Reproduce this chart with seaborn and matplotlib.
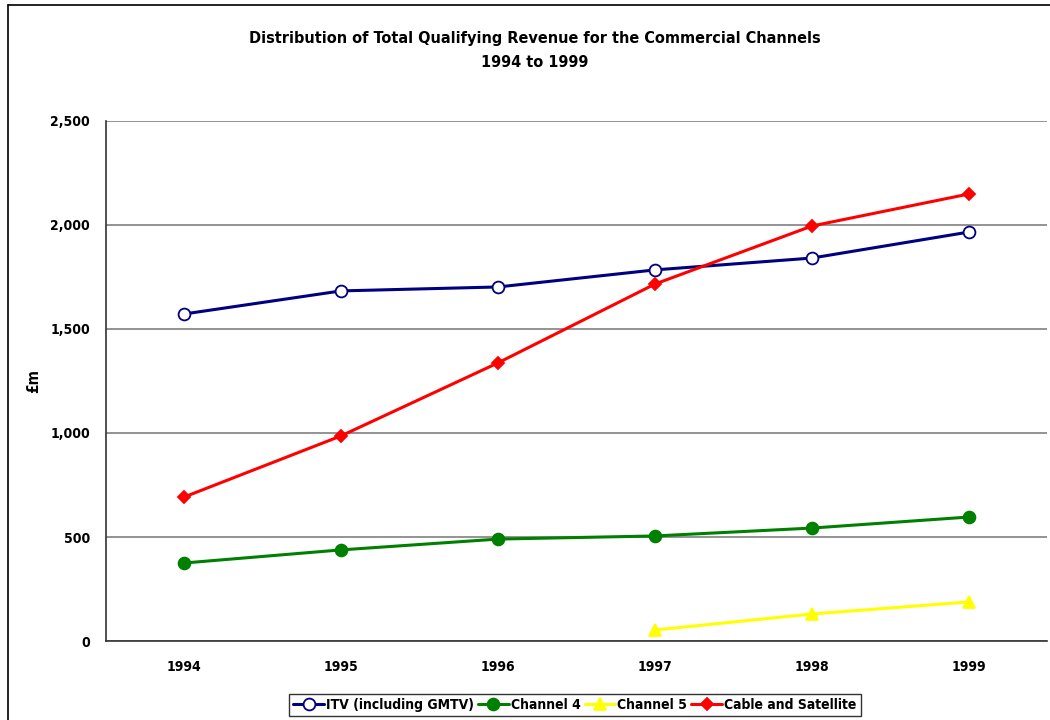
import matplotlib
matplotlib.use("Agg")
import matplotlib.pyplot as plt
import seaborn as sns
import numpy as np
import pandas as pd
from matplotlib.lines import Line2D

years = ["1994", "1995", "1996", "1997", "1998", "1999"]
itv = [1572, 1683, 1702, 1784, 1841, 1966]
channel4 = [375, 438, 490, 505, 543, 596]
channel5 = [np.nan, np.nan, np.nan, 53, 130, 188]
cable_sat = [692, 986, 1337, 1716, 1995, 2149]
y_ticks = [0, 500, 1000, 1500, 2000, 2500]

sns.set_theme(style="white")
plt.rcParams['font.family'] = ['DejaVu Sans']
plt.rcParams['font.stretch'] = 'condensed'
plt.rcParams['text.color'] = 'black'
plt.rcParams['axes.labelcolor'] = 'black'
plt.rcParams['xtick.color'] = 'black'
plt.rcParams['ytick.color'] = 'black'

fig = plt.figure(figsize=(10.5, 7.2), dpi=100)
ax = fig.add_axes([0.1005, 0.1097, 0.897, 0.7223])

x = np.arange(len(years))
series = [
    ("ITV (including GMTV)", itv, "#000080", "o", "white"),
    ("Channel 4", channel4, "#008000", "o", "#008000"),
    ("Channel 5", channel5, "#FFFF00", "^", "#FFFF00"),
    ("Cable and Satellite", cable_sat, "#FF0000", "D", "#FF0000"),
]
handles = []
for name, vals, col, mk, fc in series:
    ms = 8.5 if mk != "D" else 6.5
    sns.lineplot(x=x, y=vals, ax=ax, color=col, linewidth=2.2, marker=mk,
                 markersize=ms, markerfacecolor=fc, markeredgecolor=col,
                 markeredgewidth=1.3, legend=False)
    handles.append(Line2D([0], [0], color=col, lw=2.2, marker=mk, markersize=ms,
                          markerfacecolor=fc, markeredgecolor=col, markeredgewidth=1.3,
                          label=name))

ax.set_xlim(-0.5, len(years) - 0.5)
ax.set_ylim(0, 2500)
ax.set_yticks(y_ticks)
ax.set_yticklabels([f"{v:,}" for v in y_ticks], fontsize=10, fontweight="bold")
ax.set_xticks(x)
ax.set_xticklabels(years, fontsize=10, fontweight="bold")
ax.set_xticks(np.arange(-0.5, len(years)), minor=True)
ax.tick_params(axis="x", which="major", length=0, pad=14)
ax.tick_params(axis="x", which="minor", length=5, width=1, color="#333333", direction="out")
ax.tick_params(axis="y", which="major", length=5, width=1, color="#333333", direction="out", pad=6)
ax.yaxis.grid(True, color="#808080", linewidth=1.2)
ax.set_axisbelow(True)
for s in ["top", "right"]:
    ax.spines[s].set_visible(False)
for s in ["left", "bottom"]:
    ax.spines[s].set_color("#333333")
    ax.spines[s].set_linewidth(1.2)
ax.set_xlabel("")
ax.set_ylabel("£m", fontsize=11, fontweight="bold")
ax.yaxis.set_label_coords(-0.068, 0.5)

fig.text(0.509, 0.947, "Distribution of Total Qualifying Revenue for the Commercial Channels",
         ha="center", va="center", fontsize=11.6, fontweight="bold")
fig.text(0.509, 0.913, "1994 to 1999", ha="center", va="center", fontsize=11.6, fontweight="bold")

leg = fig.legend(handles=handles, loc="center", bbox_to_anchor=(0.5475, 0.021), ncol=4,
                 frameon=True, fancybox=False, edgecolor="black",
                 handlelength=2.2, handletextpad=0.15, columnspacing=0.3,
                 borderpad=0.3, prop={"weight": "bold", "size": 10, "stretch": "condensed"})
leg.get_frame().set_linewidth(1.0)

# figure border (left and top)
fig.add_artist(Line2D([0.008, 0.008], [0, 0.993], transform=fig.transFigure, color="black", lw=1.2))
fig.add_artist(Line2D([0.008, 1.0], [0.993, 0.993], transform=fig.transFigure, color="black", lw=1.2))

fig.savefig("out.png", dpi=100)
